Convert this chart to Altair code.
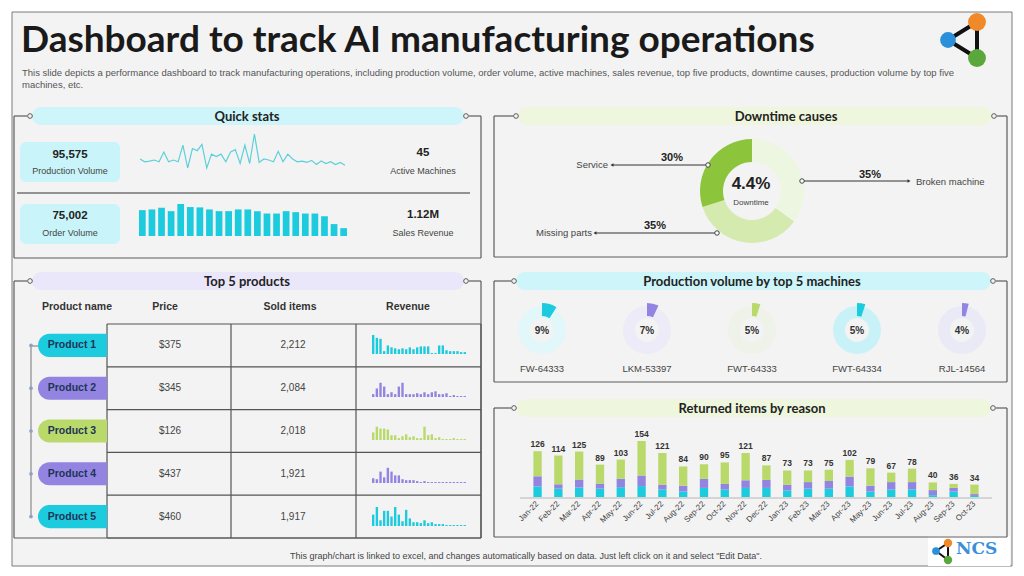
import math
import altair as alt
import pandas as pd

# ---------------- data ----------------
title_text = "Dashboard to track AI manufacturing operations"
subtitle_lines = [
    "This slide depicts a performance dashboard to track manufacturing operations, including production volume, order volume, active machines, sales revenue, top five products, downtime causes, production volume by top five",
    "machines, etc.",
]
footer_text = 'This graph/chart is linked to excel, and changes automatically based on data. Just left click on it and select "Edit Data".'

panel_titles = ["Quick stats", "Downtime causes", "Top 5 products",
                "Production volume by top 5 machines", "Returned items by reason"]

kpi_values = ["95,575", "45", "75,002", "1.12M"]
kpi_names = ["Production Volume", "Active Machines", "Order Volume", "Sales Revenue"]
production_trend = [58, 50, 52, 55, 50, 78, 50, 55, 50, 98, 32, 88, 82, 100, 32, 72, 65, 72, 50, 78,
                    85, 45, 98, 45, 130, 48, 58, 55, 50, 80, 50, 72, 58, 50, 52, 48, 54, 42, 52, 45,
                    50, 42, 48, 40]
order_trend = [76, 78, 83, 73, 94, 85, 84, 78, 73, 73, 78, 78, 73, 66, 66, 73, 70, 66, 66, 58, 35, 23]

downtime_causes = ["Broken machine", "Missing parts", "Service"]
downtime_share = [35, 35, 30]
downtime_rate = "4.4%"
downtime_caption = "Downtime"

machines = ["FW-64333", "LKM-53397", "FWT-64333", "FWT-64334", "RJL-14564"]
machine_share = [9, 7, 5, 5, 4]

table_headers = ["Product name", "Price", "Sold items", "Revenue"]
products = ["Product 1", "Product 2", "Product 3", "Product 4", "Product 5"]
prices = ["$375", "$345", "$126", "$437", "$460"]
sold_items = ["2,212", "2,084", "2,018", "1,921", "1,917"]
revenue_p1 = [20, 17, 16, 3, 9, 7, 6, 5, 6, 5, 7, 5, 7, 8, 8, 8, 1, 1, 9, 9, 4, 3, 3, 3, 2, 2]
revenue_p2 = [3, 9, 15, 11, 3, 5, 3, 11, 15, 3, 3, 3, 4, 3, 5, 3, 5, 6, 3, 3, 4, 1, 2, 1, 1, 1]
revenue_p3 = [8, 14, 12, 12, 11, 5, 5, 2, 4, 6, 3, 4, 2, 2, 14, 5, 6, 2, 3, 1, 1, 1, 2, 1, 1, 1]
revenue_p4 = [5, 4, 12, 6, 16, 12, 8, 8, 4, 3, 3, 3, 2, 1, 2, 1, 1, 1, 1, 1, 1, 1, 1, 1, 1, 1]
revenue_p5 = [12, 20, 6, 16, 16, 10, 20, 12, 5, 17, 8, 4, 4, 3, 6, 3, 4, 2, 2, 2, 1, 1, 1, 1, 1, 1]

months = ["Jan-22", "Feb-22", "Mar-22", "Apr-22", "May-22", "Jun-22", "Jul-22", "Aug-22", "Sep-22",
          "Oct-22", "Nov-22", "Dec-22", "Jan-23", "Feb-23", "Mar-23", "Apr-23", "May-23", "Jun-23",
          "Jul-23", "Aug-23", "Sep-23", "Oct-23"]
returned_reason_a = [29, 23, 26, 23, 27, 30, 21, 15, 25, 21, 25, 25, 18, 23, 23, 29, 15, 21, 21, 5, 15, 3]
returned_reason_b = [28, 12, 22, 14, 23, 29, 13, 16, 25, 15, 21, 22, 16, 18, 21, 27, 16, 20, 20, 14, 10, 5]
returned_reason_c = [69, 79, 77, 52, 53, 95, 87, 53, 40, 59, 75, 40, 39, 32, 31, 46, 48, 26, 37, 21, 11, 26]
reasons = ["Reason A", "Reason B", "Reason C"]

# ---------------- style ----------------
FONT = "Liberation Sans"
HFONT = "Lato"
CYAN = "#1ccbdd"
LAV = "#9384e2"
LIME = "#bad96b"
DARK_GREEN = "#8cc43c"
LIGHT_GREEN = "#d4eaaf"
PALE_GREEN = "#edf6e1"
BAND_CYAN = "#cdf5fa"
BAND_GREEN = "#eef6dd"
BAND_LAV = "#ebe7fa"
LINE = "#5c5c5c"
BG = "#f3f3f3"


def T(rows, size, color="#333333", weight="normal", align="center", font=FONT, angle=None,
      baseline="middle"):
    df = pd.DataFrame(rows, columns=["x", "y", "t"])
    kw = dict(fontSize=size, color=color, fontWeight=weight, align=align, baseline=baseline, font=font)
    if angle is not None:
        kw["angle"] = angle
    return alt.Chart(df).mark_text(**kw).encode(
        x=alt.X("x:Q", scale=None), y=alt.Y("y:Q", scale=None), text="t:N")


def R(segs, color=LINE, width=1.2):
    df = pd.DataFrame(segs, columns=["x", "y", "x2", "y2"])
    return alt.Chart(df).mark_rule(color=color, strokeWidth=width).encode(
        x=alt.X("x:Q", scale=None), y=alt.Y("y:Q", scale=None), x2="x2:Q", y2="y2:Q")


def RECT(rows, fill, radius=0, stroke=None, sw=1):
    df = pd.DataFrame(rows, columns=["x", "y", "x2", "y2"])
    kw = dict(fill=fill, cornerRadius=radius)
    if stroke:
        kw.update(stroke=stroke, strokeWidth=sw)
    return alt.Chart(df).mark_rect(**kw).encode(
        x=alt.X("x:Q", scale=None), y=alt.Y("y:Q", scale=None), x2="x2:Q", y2="y2:Q")


def CIRCLES(rows, fill=BG, stroke=LINE, size=22):
    df = pd.DataFrame(rows, columns=["x", "y"])
    return alt.Chart(df).mark_point(shape="circle", filled=True, fill=fill, stroke=stroke,
                                    strokeWidth=1, size=size, opacity=1).encode(
        x=alt.X("x:Q", scale=None), y=alt.Y("y:Q", scale=None))


def panel(L, Rr, Tt, B, bx0, bx1, band_fill, title, tx):
    segs = [(L, Tt, L, B), (L, B, Rr, B), (Rr, Tt, Rr, B), (L, Tt, bx0 - 3, Tt), (bx1 + 3, Tt, Rr, Tt)]
    return [
        R(segs),
        RECT([(bx0 + 2, Tt - 9, bx1 - 2, Tt + 9)], band_fill, radius=9),
        CIRCLES([(bx0, Tt), (bx1, Tt)]),
        T([(tx, Tt + 1, title)], 13, color="#222222", weight="bold", font=HFONT),
    ]


layers = []

# frame + page title
layers.append(RECT([(12, 12, 1012, 566)], BG, stroke="#7a7a7a", sw=1))
layers.append(T([(21, 41, title_text)], 37, color="#1a1a1a", weight="bold", align="left", font=HFONT))
layers.append(T([(22, 73, subtitle_lines[0]), (22, 85, subtitle_lines[1])], 9.5, color="#555555",
                align="left"))
layers.append(T([(526, 556, footer_text)], 9, color="#444444"))

# logo (decorative)
logo_lines = pd.DataFrame([(948, 40, 977, 22), (948, 40, 977, 58), (977, 22, 977, 58)],
                          columns=["x", "y", "x2", "y2"])
layers.append(alt.Chart(logo_lines).mark_rule(color="#111111", strokeWidth=4).encode(
    x=alt.X("x:Q", scale=None), y=alt.Y("y:Q", scale=None), x2="x2:Q", y2="y2:Q"))
logo_dots = pd.DataFrame([(948, 40, 250, "#2b8fd9"), (977, 22, 320, "#f0892a"), (977, 58, 320, "#5aa83c")],
                         columns=["x", "y", "s", "c"])
layers.append(alt.Chart(logo_dots).mark_circle(opacity=1).encode(
    x=alt.X("x:Q", scale=None), y=alt.Y("y:Q", scale=None),
    size=alt.Size("s:Q", scale=None), color=alt.Color("c:N", scale=None)))
layers.append(RECT([(928, 536, 1010, 566)], "#ffffff"))
small_lines = pd.DataFrame([(936, 551, 948, 543), (936, 551, 948, 560), (948, 543, 948, 560)],
                           columns=["x", "y", "x2", "y2"])
layers.append(alt.Chart(small_lines).mark_rule(color="#111111", strokeWidth=2).encode(
    x=alt.X("x:Q", scale=None), y=alt.Y("y:Q", scale=None), x2="x2:Q", y2="y2:Q"))
small_dots = pd.DataFrame([(936, 551, 60, "#2b8fd9"), (948, 543, 70, "#f0892a"), (948, 560, 70, "#5aa83c")],
                          columns=["x", "y", "s", "c"])
layers.append(alt.Chart(small_dots).mark_circle(opacity=1).encode(
    x=alt.X("x:Q", scale=None), y=alt.Y("y:Q", scale=None),
    size=alt.Size("s:Q", scale=None), color=alt.Color("c:N", scale=None)))
layers.append(T([(956, 549, "NCS")], 17, color="#3a8fd8", weight="bold", align="left",
                font="DejaVu Serif"))

# panels
layers += panel(14, 481, 116, 258, 30, 466, BAND_CYAN, panel_titles[0], 247)
layers += panel(494, 1007, 116, 257, 516, 994, BAND_GREEN, panel_titles[1], 786)
layers += panel(14, 481, 281, 538, 30, 466, BAND_LAV, panel_titles[2], 247)
layers += panel(494, 1007, 281, 382, 514, 993, BAND_CYAN, panel_titles[3], 752)
layers += panel(494, 1007, 408, 537, 514, 993, BAND_GREEN, panel_titles[4], 752)

# ---------- Quick stats ----------
layers.append(RECT([(20, 142, 120, 182), (20, 204, 120, 244)], "#c9f4f9", radius=6))
layers.append(R([(17, 193, 470, 193)], color="#333333", width=1.2))
layers.append(T([(70, 155, kpi_values[0]), (423, 153, kpi_values[1]),
                 (70, 216, kpi_values[2]), (423, 215, kpi_values[3])], 11.5, color="#222222",
                weight="bold"))
layers.append(T([(70, 171, kpi_names[0]), (423, 171, kpi_names[1]),
                 (70, 233, kpi_names[2]), (423, 233, kpi_names[3])], 9, color="#444444"))

spark = pd.DataFrame({"i": list(range(len(production_trend))), "v": production_trend})
layers.append(alt.Chart(spark).mark_line(color="#5cd0da", strokeWidth=1.2).encode(
    x=alt.X("i:Q", axis=None, scale=alt.Scale(domain=[0, len(production_trend) - 1], range=[140, 345],
                                               nice=False, zero=False)),
    y=alt.Y("v:Q", axis=None, scale=alt.Scale(domain=[min(production_trend), max(production_trend)],
                                               range=[168, 134], nice=False, zero=False))))

orders = pd.DataFrame({"i": list(range(len(order_trend))), "v": order_trend})
layers.append(alt.Chart(orders).mark_bar(color=CYAN).encode(
    x=alt.X("i:O", axis=None, scale=alt.Scale(range=[139, 347], paddingInner=0.3, paddingOuter=0)),
    y=alt.Y("v:Q", axis=None, scale=alt.Scale(domain=[0, max(order_trend)], range=[236, 204], nice=False))))

# ---------- Downtime donut ----------
dt = pd.DataFrame({"cause": downtime_causes, "share": downtime_share, "ord": [0, 1, 2]})
layers.append(alt.Chart(dt).mark_arc(radius=52, radius2=29).encode(
    theta=alt.Theta("share:Q", stack=True),
    order=alt.Order("ord:Q"),
    color=alt.Color("cause:N", legend=None,
                    scale=alt.Scale(domain=downtime_causes, range=[PALE_GREEN, LIGHT_GREEN, DARK_GREEN])),
    x=alt.value(752), y=alt.value(191)))
layers.append(T([(751, 184, downtime_rate)], 17, color="#222222", weight="bold"))
layers.append(T([(751, 203, downtime_caption)], 8, color="#444444"))
layers.append(R([(708, 165, 613, 165), (802, 181, 908, 181), (717, 233, 596, 233)], color="#333333",
                width=1))
layers.append(CIRCLES([(708, 165), (802, 181), (717, 233)], fill="#ffffff", stroke="#444444", size=20))
arrows = pd.DataFrame([(612, 165, "triangle-left"), (909, 181, "triangle-right"),
                       (595, 233, "triangle-left")], columns=["x", "y", "s"])
layers.append(alt.Chart(arrows).mark_point(filled=True, color="#333333", size=12, opacity=1).encode(
    x=alt.X("x:Q", scale=None), y=alt.Y("y:Q", scale=None), shape=alt.Shape("s:N", scale=None)))
layers.append(T([(608, 165, downtime_causes[2]), (592, 233, downtime_causes[1])], 9.5,
                color="#444444", align="right"))
layers.append(T([(916, 182, downtime_causes[0])], 9.5, color="#444444", align="left"))
layers.append(T([(672, 158, f"{downtime_share[2]}%"), (870, 175, f"{downtime_share[0]}%"),
                 (655, 226, f"{downtime_share[1]}%")], 11, color="#222222", weight="bold"))

# ---------- Production volume gauges ----------
TWO_PI = 2 * math.pi
gx = alt.Scale(type="point", domain=machines, range=[542, 962], padding=0)
gth = alt.Scale(domain=[0, 100], range=[0, TWO_PI], nice=False, zero=True)
track = pd.DataFrame({"machine": machines, "t0": [0] * 5, "t1": [100] * 5})
wedge = pd.DataFrame({"machine": machines, "t0": [0] * 5, "t1": machine_share})
layers.append(alt.Chart(track).mark_arc(radius=24, radius2=12).encode(
    x=alt.X("machine:N", scale=gx, axis=None), y=alt.value(330),
    theta=alt.Theta("t0:Q", scale=gth), theta2="t1:Q",
    color=alt.Color("machine:N", legend=None,
                    scale=alt.Scale(domain=machines,
                                    range=["#e2f7fa", "#ecebf7", "#eff2e8", "#c8f2f8", "#eae9f6"]))))
layers.append(alt.Chart(wedge).mark_arc(radius=27, radius2=14).encode(
    x=alt.X("machine:N", scale=gx, axis=None), y=alt.value(330),
    theta=alt.Theta("t0:Q", scale=gth), theta2="t1:Q",
    color=alt.Color("machine:N", legend=None,
                    scale=alt.Scale(domain=machines, range=[CYAN, LAV, LIME, CYAN, LAV]))))
glab = pd.DataFrame({"machine": machines, "pct": [f"{v}%" for v in machine_share]})
layers.append(alt.Chart(glab).mark_text(fontSize=10, fontWeight="bold", color="#333333", font=FONT).encode(
    x=alt.X("machine:N", scale=gx, axis=None), y=alt.value(331), text="pct:N"))
layers.append(alt.Chart(glab).mark_text(fontSize=9.5, color="#444444", font=FONT).encode(
    x=alt.X("machine:N", scale=gx, axis=None), y=alt.value(369), text="machine:N"))

# ---------- Returned items ----------
rx = alt.Scale(domain=months, range=[523, 989], paddingInner=0.6, paddingOuter=0.5)
ry = alt.Scale(domain=[0, 154], range=[497, 441], nice=False)
ret_rows = []
for k, series in enumerate([returned_reason_a, returned_reason_b, returned_reason_c]):
    for m, v in zip(months, series):
        ret_rows.append({"month": m, "reason": reasons[k], "value": v, "ord": k})
ret = pd.DataFrame(ret_rows)
totals = pd.DataFrame({"month": months,
                       "total": [a + b + c for a, b, c in zip(returned_reason_a, returned_reason_b,
                                                              returned_reason_c)]})
ret_bars = alt.Chart(ret).mark_bar().encode(
    x=alt.X("month:N", scale=rx, axis=None, sort=months),
    y=alt.Y("value:Q", scale=ry, axis=None, stack=True),
    order=alt.Order("ord:Q"),
    color=alt.Color("reason:N", legend=None, scale=alt.Scale(domain=reasons, range=[CYAN, LAV, LIME])))
ret_labels = alt.Chart(totals).mark_text(fontSize=8.5, fontWeight="bold", color="#333333", dy=-7,
                                         font=FONT).encode(
    x=alt.X("month:N", scale=rx, axis=None, sort=months),
    y=alt.Y("total:Q", scale=ry, axis=None), text="total:Q")
ret_months = alt.Chart(totals).mark_text(fontSize=8, color="#444444", angle=315, align="right",
                                         baseline="middle", font=FONT).encode(
    x=alt.X("month:N", scale=rx, axis=None, sort=months), y=alt.value(503), text="month:N")
layers.append(alt.layer(ret_bars, ret_labels, ret_months))
layers.append(R([(520, 498, 992, 498)], color="#b5b5b5", width=1))

# ---------- Top 5 products table ----------
ty = alt.Scale(domain=products, range=[324, 538], paddingInner=0.46, paddingOuter=0.23)
layers.append(T([(77, 307, table_headers[0]), (165, 307, table_headers[1]),
                 (290, 307, table_headers[2]), (408, 307, table_headers[3])], 10.5, color="#333333",
                weight="bold"))
grid = [(107, 324, 107, 538), (231, 324, 231, 538), (356, 324, 356, 538), (481, 324, 481, 538)]
for yy in [324, 366.8, 409.6, 452.4, 495.2, 538]:
    grid.append((107, yy, 481, yy))
layers.append(R(grid, color="#555555", width=1.2))
layers.append(R([(31, 346, 31, 517), (31, 346, 38, 346)], color="#8a8a8a", width=1.2))
tab = pd.DataFrame({"product": products, "price": prices, "sold": sold_items})
pills = alt.Chart(tab).mark_bar(cornerRadiusTopLeft=12, cornerRadiusBottomLeft=12).encode(
    y=alt.Y("product:N", scale=ty, axis=None, sort=products), x=alt.value(38), x2=alt.value(107),
    color=alt.Color("product:N", legend=None,
                    scale=alt.Scale(domain=products, range=[CYAN, LAV, LIME, LAV, CYAN])))
dots = alt.Chart(tab).mark_circle(size=14, color="#8fa0c8", opacity=1).encode(
    y=alt.Y("product:N", scale=ty, axis=None, sort=products), x=alt.value(31))
pname = alt.Chart(tab).mark_text(fontSize=10.5, fontWeight="bold", color="#1d3557", font=FONT).encode(
    y=alt.Y("product:N", scale=ty, axis=None, sort=products), x=alt.value(72), text="product:N")
pprice = alt.Chart(tab).mark_text(fontSize=10, color="#444444", font=FONT).encode(
    y=alt.Y("product:N", scale=ty, axis=None, sort=products), x=alt.value(170), text="price:N")
psold = alt.Chart(tab).mark_text(fontSize=10, color="#444444", font=FONT).encode(
    y=alt.Y("product:N", scale=ty, axis=None, sort=products), x=alt.value(293), text="sold:N")
layers.append(alt.layer(pills, dots, pname, pprice, psold))

rev_series = [revenue_p1, revenue_p2, revenue_p3, revenue_p4, revenue_p5]
rev_colors = [CYAN, LAV, LIME, LAV, CYAN]
row_base = [354, 397, 440, 483, 526]
for s, c, base in zip(rev_series, rev_colors, row_base):
    d = pd.DataFrame({"i": list(range(len(s))), "v": s})
    layers.append(alt.Chart(d).mark_bar(color=c).encode(
        x=alt.X("i:O", axis=None, scale=alt.Scale(range=[372, 466], paddingInner=0.35, paddingOuter=0)),
        y=alt.Y("v:Q", axis=None, scale=alt.Scale(domain=[0, 20], range=[base, base - 19], nice=False))))

chart = alt.layer(*layers).resolve_scale(
    x="independent", y="independent", color="independent", theta="independent",
    shape="independent", size="independent"
).properties(
    width=1024, height=576, autosize=alt.AutoSizeParams(type="none"), padding=0, background="#ffffff"
).configure_view(stroke=None)

chart.save("out.html", embed_options={"renderer": "svg", "actions": False})
